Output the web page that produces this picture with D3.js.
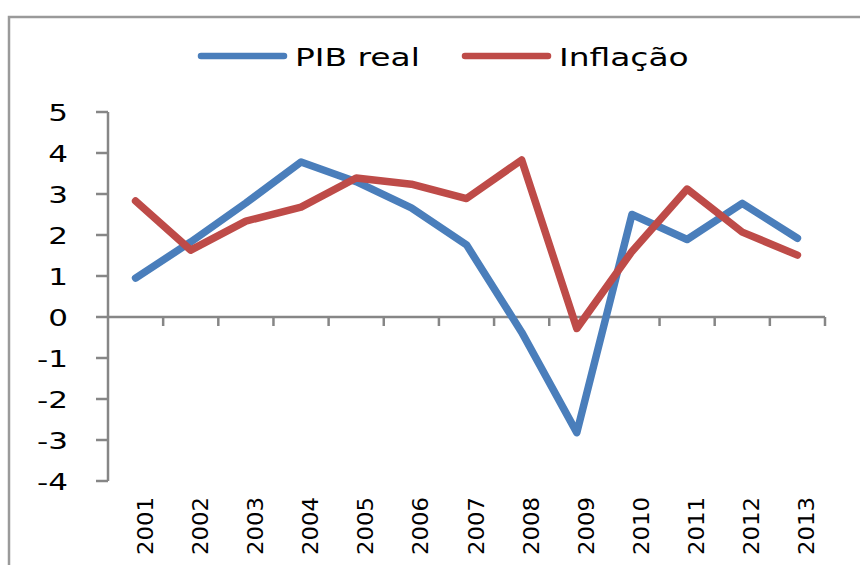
<!DOCTYPE html>
<html>
<head>
<meta charset="utf-8">
<script src="https://cdn.jsdelivr.net/npm/d3@7/dist/d3.min.js"></script>
<style>
  body { margin: 0; background: #fff; }
  svg text { font-family: "DejaVu Sans", Verdana, sans-serif; fill: #000; }
</style>
</head>
<body>
<svg id="chart" width="860" height="565"></svg>
<script>
// Data.
const years    = [ '2001','2002','2003','2004','2005','2006','2007','2008','2009','2010','2011','2012','2013' ];
const pibReal  = [ 0.95, 1.83, 2.78, 3.78, 3.30, 2.66, 1.76, -0.37, -2.82, 2.50, 1.89, 2.77, 1.92 ];
const inflacao = [ 2.83, 1.63, 2.34, 2.68, 3.39, 3.24, 2.89, 3.83, -0.28, 1.60, 3.12, 2.07, 1.51 ];
const yTicks   = [ 5, 4, 3, 2, 1, 0, -1, -2, -3, -4 ];
const seriesNames  = [ 'PIB real', 'Inflação' ];
const seriesColors = [ '#4A7EBB', '#BE4B48' ];

const svg = d3.select( '#chart' );

// Chart frame (cut off at right and bottom like the source).
svg.append( 'rect' )
  .attr( 'x', 9 ).attr( 'y', 17 )
  .attr( 'width', 900 ).attr( 'height', 600 )
  .attr( 'fill', 'none' )
  .attr( 'stroke', '#9a9a9a' )
  .attr( 'stroke-width', 2.5 );

// Scales.
const x = d3.scaleBand( ).domain( years ).range( [ 108, 825 ] );
const y = d3.scaleLinear( ).domain( [ -4, 5 ] ).range( [ 481, 112 ] );
const cx = d => x( d ) + x.bandwidth( ) / 2;

const axisColor = '#868686';

// Y axis.
const yAxis = svg.append( 'g' ).attr( 'transform', `translate( ${x.range()[0]}, 0 )` );
yAxis.append( 'line' )
  .attr( 'y1', y( -4 ) ).attr( 'y2', y( 5 ) )
  .attr( 'stroke', axisColor ).attr( 'stroke-width', 2.5 );
yAxis.selectAll( 'line.tick' )
  .data( yTicks ).enter( ).append( 'line' )
    .attr( 'class', 'tick' )
    .attr( 'x1', -12 ).attr( 'x2', 0 )
    .attr( 'y1', d => y( d ) ).attr( 'y2', d => y( d ) )
    .attr( 'stroke', axisColor ).attr( 'stroke-width', 2.5 );
yAxis.selectAll( 'text' )
  .data( yTicks ).enter( ).append( 'text' )
    .attr( 'transform', d => `translate( -40, ${y( d ) + 8.5} ) scale( 1.35, 1 )` )
    .attr( 'text-anchor', 'end' )
    .style( 'font-size', '23px' )
    .text( d => d < 0 ? '-' + Math.abs( d ) : d );

// X axis at zero, ticks between categories.
const xAxis = svg.append( 'g' ).attr( 'transform', `translate( 0, ${y( 0 )} )` );
xAxis.append( 'line' )
  .attr( 'x1', x.range()[0] ).attr( 'x2', x.range()[1] )
  .attr( 'stroke', axisColor ).attr( 'stroke-width', 2.5 );
xAxis.selectAll( 'line.tick' )
  .data( years ).enter( ).append( 'line' )
    .attr( 'class', 'tick' )
    .attr( 'x1', d => x( d ) + x.bandwidth( ) ).attr( 'x2', d => x( d ) + x.bandwidth( ) )
    .attr( 'y1', 0 ).attr( 'y2', 9 )
    .attr( 'stroke', axisColor ).attr( 'stroke-width', 2.5 );

// Rotated year labels.
svg.append( 'g' ).selectAll( 'text' )
  .data( years ).enter( ).append( 'text' )
    .attr( 'transform', d => `translate( ${cx( d ) + 17}, 497 ) rotate( -90 )` )
    .attr( 'text-anchor', 'end' )
    .attr( 'textLength', 58 )
    .attr( 'lengthAdjust', 'spacingAndGlyphs' )
    .style( 'font-size', '21px' )
    .text( d => d );

// Lines.
const line = d3.line( )
  .x( ( d, i ) => cx( years[i] ) )
  .y( d => y( d ) );

[ pibReal, inflacao ].forEach( ( values, k ) => {
  svg.append( 'path' )
    .datum( values )
    .attr( 'd', line )
    .attr( 'fill', 'none' )
    .attr( 'stroke', seriesColors[k] )
    .attr( 'stroke-width', 7.5 )
    .attr( 'stroke-linecap', 'round' )
    .attr( 'stroke-linejoin', 'round' );
} );

// Legend.
const legendX = [ 198, 462 ];
const legend = svg.append( 'g' ).selectAll( 'g' )
  .data( seriesNames ).enter( ).append( 'g' )
    .attr( 'transform', ( d, i ) => `translate( ${legendX[i]}, 56 )` );
legend.append( 'line' )
  .attr( 'x1', 3 ).attr( 'x2', 86 )
  .attr( 'stroke', ( d, i ) => seriesColors[i] )
  .attr( 'stroke-width', 6.5 )
  .attr( 'stroke-linecap', 'round' );
legend.append( 'text' )
  .attr( 'transform', 'translate( 97, 10 ) scale( 1.37, 1 )' )
  .style( 'font-size', '24px' )
  .text( d => d );
</script>
</body>
</html>
